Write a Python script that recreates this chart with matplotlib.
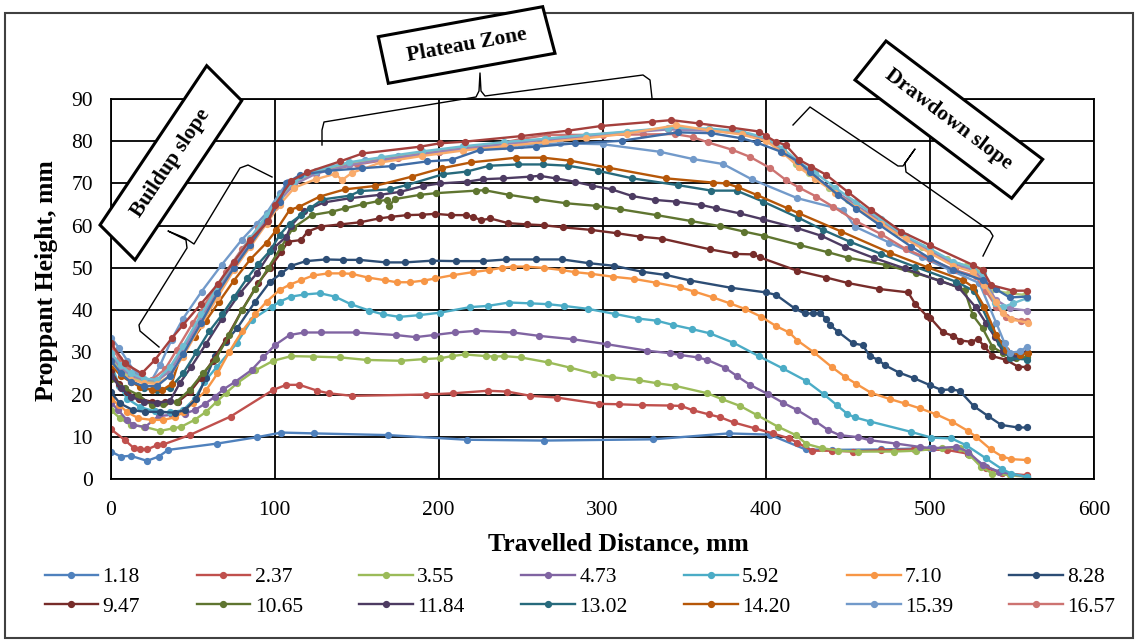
import matplotlib
matplotlib.use("Agg")
import matplotlib.pyplot as plt
from matplotlib.patches import Polygon, Rectangle
from matplotlib.lines import Line2D

# Proppant height profiles along the slot, one curve per series
x_118 = [0, 6, 12, 22, 29, 35, 65, 89, 104, 124, 169, 217, 264, 331, 377, 402, 424, 440, 470, 500, 516, 523, 534, 544, 559]
y_118 = [6.5, 5.3, 5.5, 4.3, 5.3, 6.9, 8.4, 9.9, 11.0, 10.8, 10.4, 9.3, 9.1, 9.4, 10.8, 10.5, 7.0, 6.9, 7.0, 7.3, 7.3, 6.0, 2.9, 1.4, 0.6]

x_237 = [0, 8.5, 14, 18, 22, 28, 32, 48, 73, 99, 107, 115, 126, 133, 147, 192, 209, 230, 242, 256, 272, 298, 310, 324, 341, 348, 355, 365, 372, 380, 393, 404, 414, 419, 428, 440, 453, 470, 490, 510, 523, 534, 544, 559]
y_237 = [11.8, 9.2, 7.3, 7.0, 7.0, 8.0, 8.2, 10.4, 14.8, 21.1, 22.3, 22.3, 20.9, 20.3, 19.7, 20.0, 20.3, 20.9, 20.7, 19.7, 19.3, 17.8, 17.7, 17.5, 17.4, 17.3, 16.3, 15.3, 14.6, 13.4, 12.0, 10.8, 9.6, 8.6, 6.7, 6.7, 6.5, 6.8, 7.0, 6.9, 6.0, 2.6, 1.4, 0.9]

x_355 = [0, 5.5, 12, 20, 30, 38, 43, 51, 58, 64.5, 70, 77, 88, 99, 110, 123, 140, 156, 177, 191, 201, 208, 216, 229, 234, 240, 250, 267, 280, 295, 306, 322, 333, 344, 364, 373, 384, 394, 407, 418, 424.5, 434, 444, 456, 478, 491.5, 507, 518, 524, 531, 538, 548.5, 559]
y_355 = [16.3, 14.4, 12.8, 12.4, 11.4, 12.0, 12.4, 14.0, 15.9, 18.3, 20.3, 22.7, 25.7, 28.0, 29.1, 29.0, 28.8, 28.2, 28.0, 28.4, 28.6, 29.1, 29.5, 29.1, 29.0, 29.1, 28.8, 27.6, 26.4, 24.9, 24.1, 23.4, 22.7, 22.1, 20.3, 18.9, 17.3, 15.2, 12.4, 10.4, 8.3, 7.3, 6.7, 6.5, 6.5, 6.7, 7.3, 7.3, 5.7, 2.9, 1.3, 0.9, 0.5]

x_473 = [0, 4.5, 9.6, 13.6, 20.7, 29, 37, 45, 51, 57.3, 63.5, 68.5, 75.7, 85.8, 93, 100, 109, 118, 128, 149.5, 173.7, 186, 197, 210, 223, 245.5, 261.3, 282, 303, 327, 341, 347, 358, 364, 374.6, 382, 390, 401, 410, 419, 429.5, 437.7, 444.7, 456, 463, 479, 493.6, 501.7, 516, 523, 532, 542, 559]
y_473 = [18.1, 16.3, 14.0, 12.8, 12.3, 14.9, 15.2, 15.5, 16.3, 17.8, 19.5, 21.2, 23.0, 25.8, 28.8, 31.7, 34.1, 34.7, 34.7, 34.7, 34.1, 33.6, 34.1, 34.7, 35.1, 34.7, 33.9, 33.1, 31.9, 30.4, 29.8, 29.4, 28.8, 28.2, 26.4, 24.4, 22.3, 20.1, 18.1, 16.3, 13.8, 11.6, 10.4, 9.9, 9.2, 8.4, 7.6, 7.3, 7.6, 6.5, 3.3, 1.7, 0.5]

x_592 = [0, 5, 10, 18, 27, 36, 44, 51, 57, 64.5, 76.7, 85.8, 98, 103, 110, 118, 127.5, 136.7, 146.4, 157.6, 166, 176, 188, 201, 219, 230, 243, 256, 267, 276.4, 291, 307.5, 321.7, 333, 343, 354.7, 365.5, 379.7, 395.4, 410, 424, 435, 443, 449.5, 454, 463.5, 488, 500.7, 513, 522, 534, 544, 549.5, 559]
y_592 = [27.5, 22.0, 19.0, 17.0, 16.0, 15.8, 16.3, 19.0, 23.0, 26.5, 32.1, 37.7, 40.8, 42.0, 43.2, 43.7, 44.0, 43.2, 41.4, 39.9, 39.0, 38.4, 38.8, 39.4, 40.7, 41.0, 41.8, 41.6, 41.4, 41.0, 40.3, 39.1, 38.0, 37.5, 36.5, 35.5, 34.5, 32.3, 29.1, 26.2, 23.3, 20.1, 17.5, 15.4, 14.6, 13.6, 11.2, 9.8, 9.6, 8.0, 4.9, 2.3, 1.3, 0.5]

x_710 = [0, 5, 10, 16.7, 24.8, 32, 39, 44, 50, 58, 65, 72, 80, 88, 95, 103, 109, 116, 123.4, 132.6, 140.8, 146.9, 157, 167, 174.3, 182.4, 191, 198, 209, 221, 230.8, 238.4, 245.5, 253.2, 264, 275, 283, 293, 306.5, 319, 332.5, 347, 356, 367.5, 377.7, 386.8, 397, 406, 414, 419, 429, 440, 448, 455, 464, 475.7, 484.4, 494, 503.8, 513.3, 523, 528, 537, 544, 549.5, 559]
y_710 = [19.0, 17.5, 15.8, 14.4, 14.0, 14.0, 14.6, 15.9, 18.0, 21.0, 25.0, 30.0, 35.0, 39.0, 42.0, 44.8, 46.0, 47.1, 48.2, 48.7, 48.7, 48.6, 47.7, 47.1, 46.6, 46.6, 47.0, 47.5, 48.3, 49.0, 49.5, 50.0, 50.3, 50.3, 50.0, 49.5, 49.0, 48.6, 47.9, 47.4, 46.5, 45.4, 44.4, 43.0, 41.6, 40.3, 38.4, 36.2, 34.7, 32.8, 30.0, 26.5, 24.2, 22.5, 20.4, 18.9, 17.9, 16.7, 15.3, 13.6, 11.4, 10.0, 7.0, 5.3, 4.7, 4.5]

x_828 = [0, 5.5, 13.6, 20.7, 30, 39, 45, 52, 58, 63.5, 70, 77, 88, 97, 104, 110, 119, 131, 141.4, 151.5, 167.8, 179.4, 195.7, 210.5, 227, 241.4, 259.7, 275.4, 292, 307, 324, 339, 353.7, 378.3, 399.6, 406, 417.3, 423.4, 428.5, 432.6, 436.7, 438.7, 443.7, 453, 459, 463, 468, 472.2, 481, 490, 500, 506.8, 513, 518, 526.5, 535, 543.4, 553.6, 559]
y_828 = [20.5, 17.9, 16.3, 15.9, 15.9, 15.7, 16.3, 19.0, 24.0, 29.1, 32.5, 35.7, 42.0, 46.7, 48.7, 50.5, 51.6, 52.0, 51.9, 51.9, 51.3, 51.3, 51.7, 51.6, 51.6, 52.0, 52.0, 52.0, 51.1, 50.5, 49.1, 48.3, 47.0, 45.3, 44.2, 43.6, 40.4, 39.2, 39.2, 39.2, 38.0, 36.5, 34.9, 32.1, 31.7, 29.1, 28.3, 27.0, 25.2, 23.9, 22.2, 21.1, 21.2, 20.9, 17.3, 15.0, 12.8, 12.2, 12.2]

x_947 = [0, 5, 10, 17, 25, 33, 41, 48, 55, 62, 70, 80, 90, 97, 104, 108, 116, 120, 128, 140, 152, 163.5, 171, 180.8, 190, 198, 207.5, 216.4, 220.7, 226, 231.6, 242.4, 254, 264, 276, 293, 309, 323, 336.6, 365.5, 381, 392, 396, 419, 436.7, 450, 469, 486.5, 491, 498, 500, 508, 514, 518.4, 525, 529, 533, 538, 546.5, 553.6, 559]
y_947 = [25.5, 22.5, 20.5, 19.0, 18.3, 18.2, 18.3, 20.5, 24.0, 28.0, 33.0, 40.0, 46.5, 50.0, 53.8, 56.2, 56.6, 58.6, 59.8, 60.3, 60.8, 61.7, 62.1, 62.5, 62.6, 62.8, 62.5, 62.5, 62.1, 61.3, 61.7, 60.6, 60.3, 60.1, 59.6, 59.0, 58.2, 57.4, 56.9, 54.4, 53.3, 53.2, 52.5, 49.3, 47.7, 46.4, 45.0, 44.2, 41.4, 38.6, 38.2, 34.7, 33.9, 32.8, 32.5, 33.1, 31.5, 29.1, 28.2, 26.6, 26.5]

x_1065 = [0, 8.5, 16.7, 24.8, 32, 40, 48, 56, 64, 72, 80, 88, 96, 104, 111, 122.4, 134.7, 142.8, 154, 163, 168.2, 169.8, 173.3, 188.5, 198.3, 223, 228, 243, 259.7, 278, 296, 310.6, 333, 354, 371.6, 386.4, 398.6, 420.4, 437.7, 450, 473, 491.6, 506, 521, 526, 532, 538, 544.4, 552.6, 559]
y_1065 = [23.8, 21.5, 19.9, 17.5, 17.8, 18.3, 21.1, 25.0, 28.5, 34.0, 40.0, 45.0, 50.0, 55.0, 59.4, 62.5, 63.3, 64.1, 65.1, 65.8, 66.1, 64.7, 66.3, 67.3, 67.7, 68.3, 68.4, 67.3, 66.3, 65.3, 64.7, 63.9, 62.5, 61.1, 59.9, 58.6, 57.6, 55.4, 53.7, 52.4, 50.7, 48.7, 47.0, 44.8, 38.8, 35.7, 31.3, 29.8, 28.6, 28.8]

x_1184 = [0, 6, 12, 20, 28, 36, 42, 49, 58, 67.5, 78.7, 89, 99, 107, 110, 118, 130, 145.8, 164, 176.3, 190.6, 200.7, 217, 227, 239.4, 255.6, 261.7, 271.5, 283, 293.3, 305.5, 318.3, 332, 344.7, 360.4, 369.5, 383.8, 398, 419, 433.6, 447.8, 466, 484.4, 505.8, 517, 527.8, 534, 539.3, 544.4, 550.5, 559]
y_1184 = [24.5, 21.5, 19.5, 18.3, 18.0, 18.5, 22.7, 26.6, 32.0, 37.8, 44.0, 48.7, 54.6, 57.4, 60.0, 63.5, 65.5, 66.5, 67.3, 68.0, 69.4, 70.0, 70.4, 71.0, 71.2, 71.6, 71.8, 71.2, 70.4, 69.5, 68.6, 67.0, 66.1, 65.7, 64.9, 64.1, 62.9, 61.5, 59.4, 57.6, 55.0, 52.3, 49.9, 46.9, 45.5, 40.7, 37.0, 33.7, 30.2, 29.0, 30.0]

x_1302 = [0, 6, 12, 20, 28, 36, 44, 52, 60, 68, 75, 83, 90, 97, 103, 109, 116, 121.4, 129, 145.8, 152, 170, 180.4, 202.8, 217, 231, 248.5, 263.8, 279, 297.3, 318.3, 346.1, 366.5, 381.8, 398, 419.4, 434.6, 451, 470, 490.5, 516, 527, 537, 542.4, 548.5, 559]
y_1302 = [30.0, 26.0, 23.5, 21.5, 21.0, 21.5, 25.0, 30.0, 35.0, 39.0, 43.0, 47.5, 51.0, 54.0, 57.8, 60.5, 62.5, 64.1, 66.2, 67.1, 68.2, 68.6, 69.6, 72.2, 72.8, 74.2, 74.5, 74.5, 74.2, 73.0, 71.2, 69.6, 68.3, 68.3, 65.7, 61.9, 59.0, 56.2, 53.3, 50.3, 46.7, 44.5, 36.1, 32.1, 28.6, 28.3]

x_1420 = [0, 6, 12, 18, 25, 31, 37, 43, 51, 58, 66, 75, 85, 95, 101, 109, 115, 127.5, 142.8, 161, 183.5, 201.8, 220, 247.5, 263.8, 280, 304, 339, 367.5, 375.6, 382.8, 394, 413, 420, 445.8, 475.3, 498.7, 520, 526, 533, 540.4, 546.5, 554.6, 559.5]
y_1420 = [27.0, 24.5, 23.0, 21.8, 21.1, 21.0, 22.5, 29.8, 33.7, 37.5, 42.0, 47.0, 52.0, 56.0, 59.0, 63.7, 64.5, 66.9, 68.6, 69.4, 71.6, 73.6, 75.0, 76.1, 76.1, 75.4, 73.7, 71.2, 70.2, 70.0, 69.1, 67.3, 64.1, 62.9, 58.6, 53.6, 50.1, 47.1, 45.5, 40.8, 34.1, 30.5, 29.4, 29.9]

x_1539 = [0, 5, 10, 15, 20, 25, 30, 37, 44, 55.3, 67.5, 79.7, 89, 95, 103, 108, 120, 135, 155, 175, 200, 225, 250, 274, 300, 335, 355, 373.6, 391, 419, 447, 454, 475, 495, 512, 530, 540.4, 545.5, 548.5, 554.6, 559]
y_1539 = [33.5, 31.0, 28.0, 25.0, 23.0, 23.5, 27.0, 33.0, 38.0, 44.4, 50.7, 56.6, 60.5, 63.0, 67.7, 70.4, 72.5, 74.0, 75.5, 76.5, 77.5, 78.3, 79.0, 79.5, 79.3, 77.5, 75.8, 74.6, 71.0, 66.5, 63.7, 59.8, 56.0, 52.5, 49.5, 46.4, 36.9, 32.1, 29.9, 30.2, 31.3]

x_1657 = [0, 5, 10, 17, 25, 33, 40, 50, 60, 70, 80, 90, 100, 110, 125, 150, 175, 200, 225, 250, 266, 300, 325, 344, 355, 364.5, 379, 390, 402.5, 412, 420, 430.5, 440.7, 455, 470, 485, 500, 515, 528, 534, 540.4, 546.5, 555.6, 559]
y_1657 = [31.5, 28.5, 26.0, 24.0, 23.5, 26.0, 30.5, 37.0, 43.0, 49.0, 54.5, 59.5, 64.5, 69.5, 72.5, 74.5, 76.0, 77.5, 78.5, 80.5, 81.5, 81.5, 81.6, 81.7, 81.0, 79.7, 78.0, 76.3, 73.6, 70.8, 69.0, 66.9, 64.5, 61.0, 58.0, 54.5, 52.0, 49.5, 48.0, 44.5, 40.8, 38.4, 37.5, 37.5]

# further runs, plotted but not listed in the legend
x_1775 = [0, 6, 12, 20, 28, 36, 44, 55, 65, 75, 85, 95, 103, 112, 125, 145, 165, 190, 215, 240, 265, 290, 315, 340, 365, 385, 400, 410, 418, 426, 438, 450, 465, 480, 495, 510, 522, 530, 537, 548, 558]
y_1775 = [28.5, 25.5, 24.0, 23.2, 23.0, 26.0, 31.0, 38.5, 45.0, 51.0, 56.5, 62.0, 66.5, 70.0, 72.5, 74.5, 75.8, 77.2, 78.5, 79.5, 80.5, 81.3, 82.2, 83.0, 82.8, 82.0, 80.5, 78.0, 74.5, 72.5, 69.0, 66.0, 62.0, 58.5, 55.0, 52.0, 50.5, 49.5, 44.8, 44.0, 43.6]

x_1894 = [0, 6, 12, 20, 28, 36, 44, 55, 65, 75, 85, 95, 103, 112, 125, 145, 165, 190, 215, 240, 265, 290, 315, 340, 365, 385, 400, 410, 420, 430, 442, 455, 470, 485, 500, 514, 526, 533, 540, 548.5, 559]
y_1894 = [29.0, 26.5, 24.5, 23.5, 23.3, 25.5, 30.5, 38.0, 44.5, 50.5, 56.0, 61.5, 66.0, 69.8, 72.3, 74.3, 75.6, 77.0, 78.3, 79.3, 80.3, 81.0, 82.0, 82.8, 82.5, 81.8, 80.2, 77.5, 74.0, 71.5, 68.2, 64.8, 61.0, 57.2, 54.0, 51.0, 49.5, 47.0, 42.5, 40.4, 39.9]

x_2012 = [0, 6, 12, 20, 28, 36, 44, 55, 65, 75, 85, 95, 103, 112, 125, 145, 165, 190, 215, 240, 265, 290, 315, 340, 365, 385, 400, 410, 420, 430, 442, 455, 470, 485, 500, 514, 526, 532, 539.3, 544.4, 550.5, 559]
y_2012 = [29.8, 27.0, 25.0, 23.8, 23.5, 26.5, 31.5, 39.0, 45.5, 51.5, 57.0, 62.5, 67.0, 70.5, 73.0, 75.0, 76.2, 77.6, 78.8, 79.8, 80.6, 81.5, 82.3, 83.2, 83.0, 82.3, 80.8, 78.3, 75.0, 72.5, 69.0, 65.5, 61.5, 57.5, 54.5, 51.5, 50.0, 48.5, 41.6, 40.7, 41.6, 42.8]

x_2131 = [0, 6, 12, 20, 28, 36, 44, 55, 65, 75, 85, 95, 103, 112, 125, 137, 141, 147, 165, 190, 215, 240, 265, 290, 315, 345, 365, 385, 400, 410, 420, 430, 442, 455, 470, 485, 500, 514, 526, 533, 540, 544.4, 549.4, 559.7]
y_2131 = [27.8, 25.0, 23.5, 22.8, 22.5, 24.5, 29.0, 36.5, 43.0, 49.5, 55.0, 60.5, 65.0, 69.0, 71.0, 72.3, 70.8, 72.5, 75.0, 76.5, 77.8, 78.8, 79.8, 80.7, 81.8, 83.8, 82.6, 81.6, 80.0, 77.3, 73.8, 71.0, 67.8, 64.3, 60.5, 56.8, 53.5, 50.5, 49.0, 46.0, 42.0, 39.2, 37.8, 37.0]

x_2249 = [0, 6, 12, 20, 28, 36, 44, 55, 65, 75, 85, 95, 103, 107, 115.3, 132.6, 153, 171.3, 192.6, 207.9, 225, 243.4, 259.7, 283, 311.6, 346, 366.5, 384.8, 394, 409, 419.4, 426.5, 443.7, 455, 469, 488.5, 499.7, 514, 532, 540, 548.5, 559]
y_2249 = [28.0, 25.0, 23.0, 22.0, 22.0, 24.5, 29.5, 37.0, 44.0, 50.0, 55.5, 61.0, 65.5, 70.0, 72.0, 73.0, 73.6, 74.1, 75.2, 75.6, 77.9, 78.3, 78.7, 79.5, 80.1, 82.1, 81.9, 80.7, 79.7, 77.5, 75.2, 72.8, 67.3, 64.0, 60.2, 55.0, 52.3, 49.5, 47.1, 45.0, 43.0, 43.2]

x_2367 = [0, 8.5, 18.7, 26.8, 37, 44, 55, 65.5, 75, 84.8, 96, 100, 110, 119.4, 139.7, 153.5, 188.5, 200.7, 216, 250, 279, 299, 330, 342, 359, 379, 395.5, 400, 405.7, 411.8, 420, 427.5, 436.7, 450, 464, 482.4, 499.7, 526, 532, 537.3, 550.5, 559]
y_2367 = [32.1, 27.4, 25.0, 28.2, 33.3, 36.5, 41.5, 46.3, 51.5, 56.6, 61.0, 64.9, 70.6, 72.6, 75.2, 77.1, 78.7, 79.5, 79.9, 81.2, 82.5, 83.6, 84.6, 85.0, 84.2, 83.2, 82.3, 81.2, 79.9, 79.1, 75.6, 74.0, 72.0, 67.9, 63.7, 58.6, 55.4, 50.7, 49.5, 45.9, 44.6, 44.6]

labels = ["1.18", "2.37", "3.55", "4.73", "5.92", "7.10", "8.28",
          "9.47", "10.65", "11.84", "13.02", "14.20", "15.39", "16.57",
          "17.75", "18.94", "20.12", "21.31", "22.49", "23.67"]
colors = ["#4F81BD", "#C0504D", "#9BBB59", "#8064A2", "#4BACC6", "#F79646", "#2C4D75",
          "#772C2A", "#5F7530", "#4D3B62", "#276A7C", "#B65708", "#729ACA", "#CD7371",
          "#AFC97A", "#9983B5", "#6FBDD1", "#F9AB6B", "#3F6CA6", "#A5403D"]
xs = [x_118, x_237, x_355, x_473, x_592, x_710, x_828, x_947, x_1065, x_1184,
      x_1302, x_1420, x_1539, x_1657, x_1775, x_1894, x_2012, x_2131, x_2249, x_2367]
ys = [y_118, y_237, y_355, y_473, y_592, y_710, y_828, y_947, y_1065, y_1184,
      y_1302, y_1420, y_1539, y_1657, y_1775, y_1894, y_2012, y_2131, y_2249, y_2367]
n_legend = 14
n_cols = 7

W, H = 1139, 644


def fpos(px, py):
    # pixel position (from top-left) -> figure fraction
    return px / W, 1 - py / H


plt.rcParams["font.family"] = ["Liberation Serif", "DejaVu Serif"]

fig = plt.figure(figsize=(W / 100, H / 100), dpi=100)
ax = fig.add_axes([111 / W, 1 - 479 / H, 983 / W, 380 / H])

handles = []
for i in range(len(labels)):
    line, = ax.plot(xs[i], ys[i], color=colors[i], lw=1.7, marker="o", ms=4.2,
                    mfc=colors[i], mec=colors[i], solid_joinstyle="round")
    handles.append(line)

ax.set_xlim(0, 600)
ax.set_ylim(0, 90)
ax.set_xticks(range(0, 601, 100))
ax.set_yticks(range(0, 91, 10))
ax.grid(True, color="black", lw=1.3)
ax.set_axisbelow(True)
for sp in ax.spines.values():
    sp.set_color("black")
    sp.set_linewidth(1.3)
ax.tick_params(length=0, labelsize=15.5)
ax.tick_params(axis="x", pad=16)
ax.tick_params(axis="y", pad=13)

ax.set_xlabel("Travelled Distance, mm", fontsize=18.5, fontweight="bold")
ax.xaxis.set_label_coords((618 - 111) / 983, (479 - 532) / 380)
ax.set_ylabel("Proppant Height, mm", fontsize=18.5, fontweight="bold")
ax.yaxis.set_label_coords((58 - 111) / 983, (479 - 281) / 380)

# legend filled row by row, two rows of seven entries
n_rows = n_legend // n_cols
order = [r * n_cols + c for c in range(n_cols) for r in range(n_rows)]
fig.legend([handles[k] for k in order], [labels[k] for k in order],
           ncol=n_cols, loc="center", bbox_to_anchor=fpos(580, 592),
           frameon=False, fontsize=15.5, handlelength=2.5, handletextpad=0.2,
           columnspacing=2.62, labelspacing=0.45, numpoints=1)

# outer chart frame
fig.add_artist(Rectangle(fpos(5, 638), (1133 - 5) / W, (638 - 13) / H,
                         transform=fig.transFigure, fill=False,
                         edgecolor="#404040", lw=1.5, zorder=1))

# zone callouts: rotated boxes with braces
callouts = [
    ("Buildup slope", [(206.7, 65.7), (241.7, 100.7), (135, 260), (100, 225)], (170.8, 162.9), 56.2),
    ("Plateau Zone", [(378.3, 36.7), (542.7, 6.7), (555, 53.3), (388.3, 83.3)], (466.6, 45.0), 10.3),
    ("Drawdown slope", [(886, 41), (1042.7, 159.3), (1011.7, 198.3), (855, 80)], (948.9, 119.6), -37.0),
]
for text, corners, center, angle in callouts:
    fig.add_artist(Polygon([fpos(*c) for c in corners], closed=True,
                           transform=fig.transFigure, facecolor="white",
                           edgecolor="black", lw=2.2, zorder=10))
    cx, cy = fpos(*center)
    fig.text(cx, cy, text, rotation=angle, rotation_mode="anchor",
             ha="center", va="center", fontsize=15.5, fontweight="bold", zorder=11)

braces = [
    [(159, 347), (140, 331), (139, 325), (187, 248), (186, 240), (168, 231),
     (185, 238), (194, 244), (240, 168), (248, 165), (272, 177)],
    [(322, 145), (322, 130), (324, 122), (476, 97), (479, 91), (480, 73),
     (481, 91), (485, 96), (643, 75), (650, 80), (652, 98)],
    [(793, 125), (810, 107), (898, 166), (903, 166), (915, 149), (905, 163),
     (906, 172), (990, 231), (993, 236), (983, 256)],
]
for pts in braces:
    bx = [fpos(*p)[0] for p in pts]
    by = [fpos(*p)[1] for p in pts]
    fig.add_artist(Line2D(bx, by, transform=fig.transFigure, color="black",
                          lw=1.0, zorder=9))

fig.savefig("out.png", dpi=100)
